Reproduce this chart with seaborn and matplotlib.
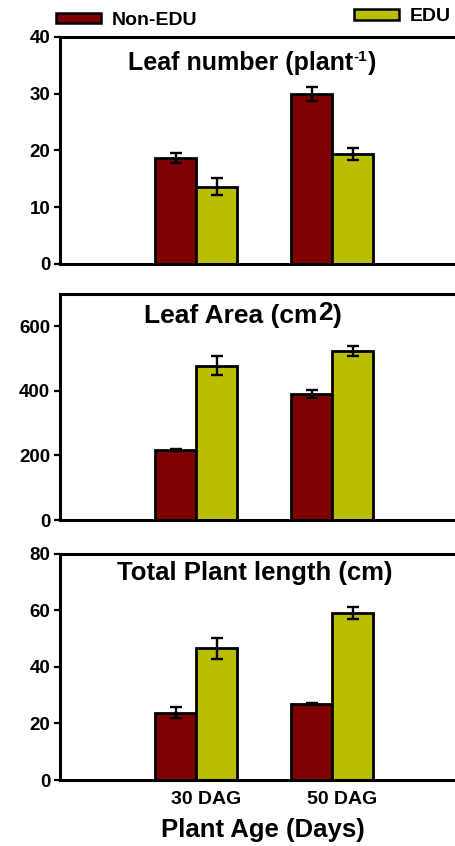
import numpy as np
import pandas as pd
import matplotlib
matplotlib.use("Agg")
import matplotlib.pyplot as plt
import matplotlib.patches as mpatches
from matplotlib.transforms import ScaledTranslation
import seaborn as sns

# ---- data ----
ages = ["30 DAG", "50 DAG"]
treatments = ["Non-EDU", "EDU"]

leaf_number_non = [18.7, 30.0]
leaf_number_edu = [13.6, 19.4]
leaf_number_err_non = [0.9, 1.2]
leaf_number_err_edu = [1.5, 1.0]

leaf_area_non = [216, 391]
leaf_area_edu = [478, 524]
leaf_area_err_non = [3, 12]
leaf_area_err_edu = [30, 16]

plant_length_non = [23.8, 27.0]
plant_length_edu = [46.7, 59.2]
plant_length_err_non = [2.0, 0.3]
plant_length_err_edu = [3.7, 2.2]

colors = {"Non-EDU": "#7F0000", "EDU": "#B9BF00"}

sns.set_style("white")
plt.rcParams["font.family"] = ["Liberation Sans", "DejaVu Sans"]
plt.rcParams["font.weight"] = "bold"
plt.rcParams["text.color"] = "black"
plt.rcParams["axes.labelcolor"] = "black"
plt.rcParams["xtick.color"] = "black"
plt.rcParams["ytick.color"] = "black"


def long_frame(non, edu):
    return pd.DataFrame({
        "Age": ages * 2,
        "Treatment": [treatments[0]] * 2 + [treatments[1]] * 2,
        "Value": list(non) + list(edu),
    })


def chained_title(ax, x, y, parts):
    """Write a title as consecutive pieces: (text, fontsize, raise_pt)."""
    text, size, rise = parts[0]
    prev = ax.text(x, y, text, transform=ax.transAxes, ha="left",
                   va="baseline", fontsize=size, fontweight="bold")
    prev_rise = rise
    for text, size, rise in parts[1:]:
        prev = ax.annotate(text, xy=(1, 0), xycoords=prev,
                           xytext=(0.3, rise - prev_rise),
                           textcoords="offset points", ha="left",
                           va="bottom", fontsize=size, fontweight="bold")
        prev_rise = rise
    return prev


fig = plt.figure(figsize=(4.56, 8.46), dpi=100)
left, width = 0.1316, 0.8684
ax1 = fig.add_axes([left, 0.688, width, 0.2683])
ax2 = fig.add_axes([left, 0.3853, width, 0.2672])
ax3 = fig.add_axes([left, 0.078, width, 0.2672])

panels = [
    (ax1, leaf_number_non, leaf_number_edu, leaf_number_err_non, leaf_number_err_edu, 40, 10),
    (ax2, leaf_area_non, leaf_area_edu, leaf_area_err_non, leaf_area_err_edu, 700, 200),
    (ax3, plant_length_non, plant_length_edu, plant_length_err_non, plant_length_err_edu, 80, 20),
]

for ax, non, edu, enon, eedu, ymax, step in panels:
    df = long_frame(non, edu)
    sns.barplot(data=df, x="Age", y="Value", hue="Treatment", order=ages,
                hue_order=treatments, palette=colors, width=0.6, errorbar=None,
                edgecolor="black", linewidth=2.0, saturation=1, legend=False, ax=ax)
    for cont, errs in zip(ax.containers, [enon, eedu]):
        xs = [b.get_x() + b.get_width() / 2 for b in cont]
        hs = [b.get_height() for b in cont]
        ax.errorbar(xs, hs, yerr=errs, fmt="none", ecolor="black",
                    elinewidth=1.7, capsize=4, capthick=1.7, zorder=5)
    ax.set_xlim(-1, 1.91)
    ax.set_ylim(0, ymax)
    ax.set_yticks(np.arange(0, ymax + 1, step))
    ax.set_xlabel("")
    ax.set_ylabel("")
    ax.spines["right"].set_visible(False)
    for s in ["left", "bottom", "top"]:
        ax.spines[s].set_linewidth(2.2)
        ax.spines[s].set_color("black")
    ax.tick_params(axis="y", left=True, direction="out", length=4, width=1.6,
                   labelsize=13.5, pad=3)
    ax.tick_params(axis="x", bottom=False, length=0, labelsize=14)
    for lab in ax.get_yticklabels():
        lab.set_fontweight("bold")

ax1.set_xticklabels([])
ax2.set_xticklabels([])
offset = ScaledTranslation(10 / 100, -6 / 100, fig.dpi_scale_trans)
for lab in ax3.get_xticklabels():
    lab.set_fontweight("bold")
    lab.set_transform(lab.get_transform() + offset)

# panel titles
chained_title(ax1, 0.172, 0.855, [("Leaf number (plant", 18, 0),
                                  ("-1", 11, 8), (")", 18, 0)])
chained_title(ax2, 0.212, 0.87, [("Leaf Area (cm", 19, 0),
                                 ("2", 19, 2.5), (")", 19, 0)])
ax3.text(0.492, 0.916, "Total Plant length (cm)", transform=ax3.transAxes,
         ha="center", va="center", fontsize=18.5, fontweight="bold")

fig.text(0.577, 0.019, "Plant Age (Days)", ha="center", va="center",
         fontsize=18.5, fontweight="bold")

# legend entries placed separately across the top
h_non = mpatches.Patch(facecolor=colors["Non-EDU"], edgecolor="black", linewidth=1.8)
h_edu = mpatches.Patch(facecolor=colors["EDU"], edgecolor="black", linewidth=1.8)
leg_kw = dict(frameon=False, borderpad=0, borderaxespad=0, handlelength=2.3,
              handleheight=0.45, handletextpad=0.55, loc="center left",
              prop={"weight": "bold", "size": 14})
fig.legend([h_non], ["Non-EDU"], bbox_to_anchor=(0.123, 0.976), **leg_kw)
fig.legend([h_edu], ["EDU"], bbox_to_anchor=(0.776, 0.980), **leg_kw)

fig.savefig("out.png", dpi=100)
